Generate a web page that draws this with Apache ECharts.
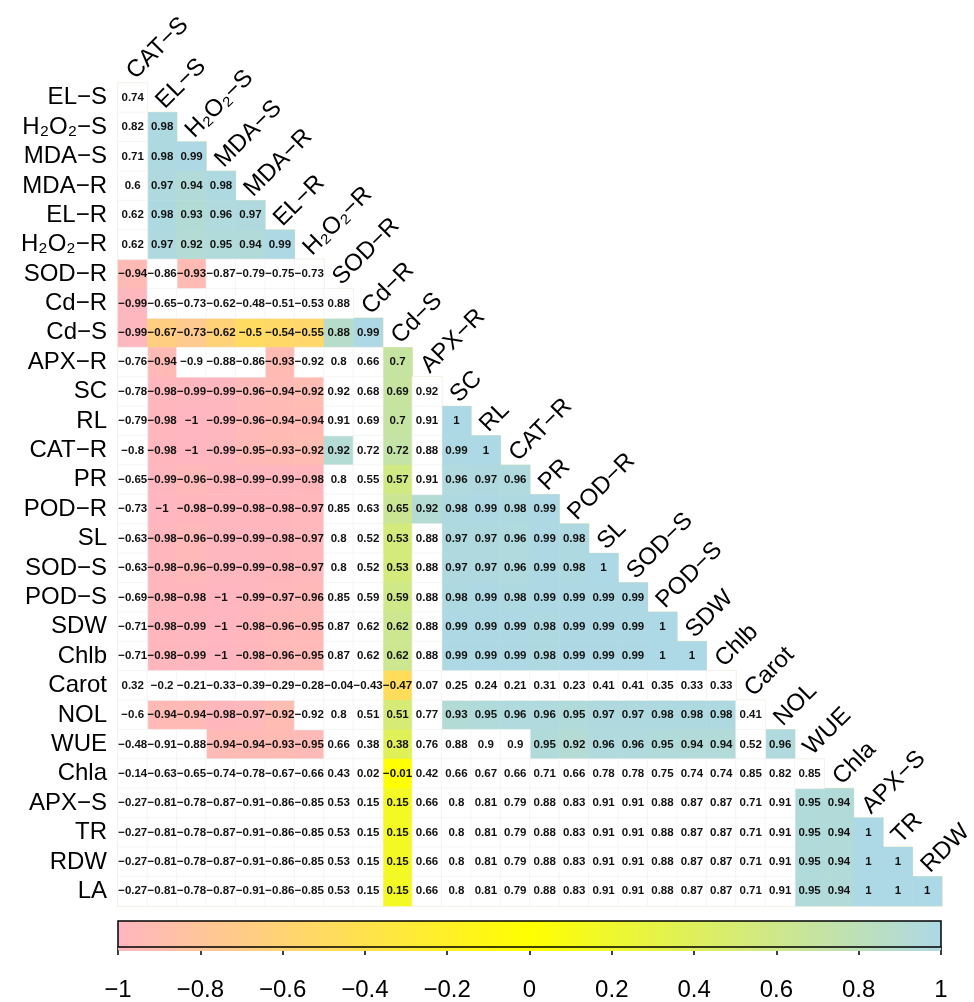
<!DOCTYPE html>
<html>
<head>
<meta charset="utf-8">
<script src="https://cdn.jsdelivr.net/npm/echarts@6/dist/echarts.min.js"></script>
<style>
html,body{margin:0;padding:0;background:#fff;}
#chart{width:974px;height:1002px;}
</style>
</head>
<body>
<div id="chart"></div>
<script>
// ---- variable names (columns of the lower-triangular matrix) ----
const colNames = ['CAT−S','EL−S','H₂O₂−S','MDA−S','MDA−R','EL−R','H₂O₂−R','SOD−R','Cd−R','Cd−S',
  'APX−R','SC','RL','CAT−R','PR','POD−R','SL','SOD−S','POD−S','SDW','Chlb','Carot','NOL','WUE',
  'Chla','APX−S','TR','RDW'];
const rowNames = ['EL−S','H₂O₂−S','MDA−S','MDA−R','EL−R','H₂O₂−R','SOD−R','Cd−R','Cd−S','APX−R',
  'SC','RL','CAT−R','PR','POD−R','SL','SOD−S','POD−S','SDW','Chlb','Carot','NOL','WUE','Chla',
  'APX−S','TR','RDW','LA'];

// ---- correlation values, one row each ----
const vEL_S   = [0.74];
const vH2O2_S = [0.82,0.98];
const vMDA_S  = [0.71,0.98,0.99];
const vMDA_R  = [0.6,0.97,0.94,0.98];
const vEL_R   = [0.62,0.98,0.93,0.96,0.97];
const vH2O2_R = [0.62,0.97,0.92,0.95,0.94,0.99];
const vSOD_R  = [-0.94,-0.86,-0.93,-0.87,-0.79,-0.75,-0.73];
const vCd_R   = [-0.99,-0.65,-0.73,-0.62,-0.48,-0.51,-0.53,0.88];
const vCd_S   = [-0.99,-0.67,-0.73,-0.62,-0.5,-0.54,-0.55,0.88,0.99];
const vAPX_R  = [-0.76,-0.94,-0.9,-0.88,-0.86,-0.93,-0.92,0.8,0.66,0.7];
const vSC     = [-0.78,-0.98,-0.99,-0.99,-0.96,-0.94,-0.92,0.92,0.68,0.69,0.92];
const vRL     = [-0.79,-0.98,-1,-0.99,-0.96,-0.94,-0.94,0.91,0.69,0.7,0.91,1];
const vCAT_R  = [-0.8,-0.98,-1,-0.99,-0.95,-0.93,-0.92,0.92,0.72,0.72,0.88,0.99,1];
const vPR     = [-0.65,-0.99,-0.96,-0.98,-0.99,-0.99,-0.98,0.8,0.55,0.57,0.91,0.96,0.97,0.96];
const vPOD_R  = [-0.73,-1,-0.98,-0.99,-0.98,-0.98,-0.97,0.85,0.63,0.65,0.92,0.98,0.99,0.98,0.99];
const vSL     = [-0.63,-0.98,-0.96,-0.99,-0.99,-0.98,-0.97,0.8,0.52,0.53,0.88,0.97,0.97,0.96,0.99,0.98];
const vSOD_S  = [-0.63,-0.98,-0.96,-0.99,-0.99,-0.98,-0.97,0.8,0.52,0.53,0.88,0.97,0.97,0.96,0.99,0.98,1];
const vPOD_S  = [-0.69,-0.98,-0.98,-1,-0.99,-0.97,-0.96,0.85,0.59,0.59,0.88,0.98,0.99,0.98,0.99,0.99,0.99,0.99];
const vSDW    = [-0.71,-0.98,-0.99,-1,-0.98,-0.96,-0.95,0.87,0.62,0.62,0.88,0.99,0.99,0.99,0.98,0.99,0.99,0.99,1];
const vChlb   = [-0.71,-0.98,-0.99,-1,-0.98,-0.96,-0.95,0.87,0.62,0.62,0.88,0.99,0.99,0.99,0.98,0.99,0.99,0.99,1,1];
const vCarot  = [0.32,-0.2,-0.21,-0.33,-0.39,-0.29,-0.28,-0.04,-0.43,-0.47,0.07,0.25,0.24,0.21,0.31,0.23,0.41,0.41,0.35,0.33,0.33];
const vNOL    = [-0.6,-0.94,-0.94,-0.98,-0.97,-0.92,-0.92,0.8,0.51,0.51,0.77,0.93,0.95,0.96,0.96,0.95,0.97,0.97,0.98,0.98,0.98,0.41];
const vWUE    = [-0.48,-0.91,-0.88,-0.94,-0.94,-0.93,-0.95,0.66,0.38,0.38,0.76,0.88,0.9,0.9,0.95,0.92,0.96,0.96,0.95,0.94,0.94,0.52,0.96];
const vChla   = [-0.14,-0.63,-0.65,-0.74,-0.78,-0.67,-0.66,0.43,0.02,-0.01,0.42,0.66,0.67,0.66,0.71,0.66,0.78,0.78,0.75,0.74,0.74,0.85,0.82,0.85];
const vAPX_S  = [-0.27,-0.81,-0.78,-0.87,-0.91,-0.86,-0.85,0.53,0.15,0.15,0.66,0.8,0.81,0.79,0.88,0.83,0.91,0.91,0.88,0.87,0.87,0.71,0.91,0.95,0.94];
const vTR     = [-0.27,-0.81,-0.78,-0.87,-0.91,-0.86,-0.85,0.53,0.15,0.15,0.66,0.8,0.81,0.79,0.88,0.83,0.91,0.91,0.88,0.87,0.87,0.71,0.91,0.95,0.94,1];
const vRDW    = [-0.27,-0.81,-0.78,-0.87,-0.91,-0.86,-0.85,0.53,0.15,0.15,0.66,0.8,0.81,0.79,0.88,0.83,0.91,0.91,0.88,0.87,0.87,0.71,0.91,0.95,0.94,1,1];
const vLA     = [-0.27,-0.81,-0.78,-0.87,-0.91,-0.86,-0.85,0.53,0.15,0.15,0.66,0.8,0.81,0.79,0.88,0.83,0.91,0.91,0.88,0.87,0.87,0.71,0.91,0.95,0.94,1,1,1];

const valueRows = [vEL_S,vH2O2_S,vMDA_S,vMDA_R,vEL_R,vH2O2_R,vSOD_R,vCd_R,vCd_S,vAPX_R,vSC,vRL,vCAT_R,
  vPR,vPOD_R,vSL,vSOD_S,vPOD_S,vSDW,vChlb,vCarot,vNOL,vWUE,vChla,vAPX_S,vTR,vRDW,vLA];

// ---- which cells are filled with colour (1) or left white (0) ----
const sigRows = [
  '0','01','011','0111','01111','011111',
  '1010000','10000000','111111111','0100010001',
  '01111110010','011111100101','0111111101011','01111110010111',
  '011111100111111','0111111001011111','01111110010111111','011111100101111111',
  '0111111001011111111','01111110010111111111',
  '000000000100000000000',
  '0111110001011111111110',
  '00011110010000111111101',
  '000000000100000000000000',
  '0000000001000000000000011',
  '00000000010000000000000111',
  '000000000100000000000001111',
  '0000000001000000000000011111'
];

// ---- colour bar ticks / palette ----
const barTicks = [-1,-0.8,-0.6,-0.4,-0.2,0,0.2,0.4,0.6,0.8,1];
const palette = ['#FFB6C1','#FFFF00','#ADD8E6'];

const colored = [], plain = [];
valueRows.forEach((row, r) => {
  row.forEach((v, c) => {
    (sigRows[r][c] === '1' ? colored : plain).push([c, r, v]);
  });
});
const diagData = colNames.map((n, j) => [j, j]);

const FONT = '"Liberation Sans", Arial, Helvetica, sans-serif';
const fmt = v => String(v).replace('-', '−');

const cellLabel = {
  show: true,
  formatter: p => fmt(p.value[2]),
  color: '#111',
  fontSize: 11.5,
  fontWeight: 'bold',
  fontFamily: FONT
};

const chart = echarts.init(document.getElementById('chart'), null, {renderer: 'canvas'});
chart.setOption({
  backgroundColor: '#fff',
  animation: false,
  grid: [
    {left: 118, top: 83, width: 824, height: 823, containLabel: false},
    {left: 118, top: 921, width: 823, height: 30, show: true, borderColor: '#000', borderWidth: 1.5,
     backgroundColor: 'transparent', z: 10}
  ],
  xAxis: [
    {type: 'category', gridIndex: 0, data: colNames, show: false},
    {type: 'value', gridIndex: 1, min: barTicks[0], max: barTicks[barTicks.length - 1], interval: 0.2,
     position: 'bottom',
     axisLine: {show: false},
     axisTick: {show: true, length: 8, lineStyle: {color: '#000', width: 1.5}},
     splitLine: {show: false},
     axisLabel: {fontSize: 24, color: '#000', margin: 31, fontFamily: FONT,
       formatter: v => fmt(Math.round(v * 10) / 10)}}
  ],
  yAxis: [
    {type: 'category', gridIndex: 0, data: rowNames, inverse: true,
     axisLine: {show: false}, axisTick: {show: false}, splitLine: {show: false},
     axisLabel: {interval: 0, fontSize: 24, color: '#000', margin: 11, fontFamily: FONT}},
    {type: 'value', gridIndex: 1, show: false, min: 0, max: 1}
  ],
  visualMap: {
    type: 'continuous',
    min: -1, max: 1,
    seriesIndex: 0,
    orient: 'horizontal',
    left: 118, top: 921,
    itemWidth: 30, itemHeight: 823,
    calculable: false,
    text: null,
    showLabel: false,
    padding: 0,
    inRange: {color: palette},
    hoverLink: false
  },
  series: [
    {type: 'heatmap', xAxisIndex: 0, yAxisIndex: 0, data: colored,
     itemStyle: {borderWidth: 0},
     label: cellLabel, emphasis: {disabled: true}},
    {type: 'heatmap', xAxisIndex: 0, yAxisIndex: 0, data: plain,
     itemStyle: {color: '#ffffff', borderColor: '#f0f0f0', borderWidth: 0.6},
     label: cellLabel, emphasis: {disabled: true}},
    {type: 'custom', xAxisIndex: 0, yAxisIndex: 0, data: diagData, silent: true, z: 5,
     renderItem: (params, api) => {
       const j = api.value(0);
       const p = api.coord([j, api.value(1)]);
       const s = api.size([1, 1]);
       return {
         type: 'text',
         x: p[0] - 2,
         y: p[1] - s[1] + 7,
         rotation: Math.PI / 4,
         style: {text: colNames[j], fill: '#000', font: '24px ' + FONT,
           align: 'left', verticalAlign: 'middle'}
       };
     }},
    // faint outline of the lower triangle (staircase)
    {type: 'custom', xAxisIndex: 0, yAxisIndex: 0, data: [[0, 0]], silent: true, z: 1,
     renderItem: (params, api) => {
       const s = api.size([1, 1]);
       const pts = [];
       const c00 = api.coord([0, 0]);
       pts.push([c00[0] - s[0] / 2, c00[1] - s[1] / 2]);
       for (let r = 0; r < rowNames.length; r++) {
         const c = api.coord([r, r]);
         pts.push([c[0] + s[0] / 2, c[1] - s[1] / 2]);
         pts.push([c[0] + s[0] / 2, c[1] + s[1] / 2]);
       }
       const cl = api.coord([0, rowNames.length - 1]);
       pts.push([cl[0] - s[0] / 2, cl[1] + s[1] / 2]);
       return {
         type: 'polygon',
         shape: {points: pts},
         style: {fill: 'none', stroke: '#ecebc6', lineWidth: 1.2}
       };
     }}
  ]
});
</script>
</body>
</html>
